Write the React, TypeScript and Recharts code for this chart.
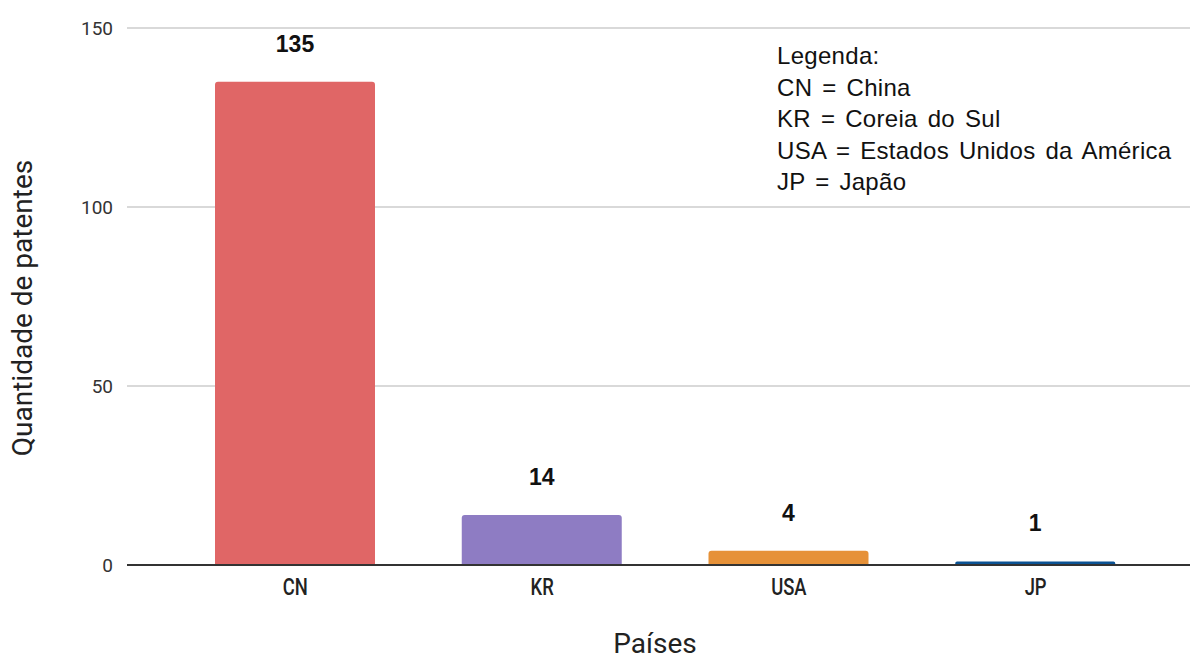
import { BarChart, Bar, XAxis, YAxis, CartesianGrid, Cell, LabelList } from "recharts";

const countries = ["CN", "KR", "USA", "JP"];
const patents = [135, 14, 4, 1];
const barColors = ["#e06666", "#8e7cc3", "#e69138", "#0b5394"];
const yTicks = [0, 50, 100, 150];
const legendLines = [
  "Legenda:",
  "CN = China",
  "KR = Coreia do Sul",
  "USA = Estados Unidos da América",
  "JP = Japão",
];

const data = countries.map((c, i) => ({ country: c, value: patents[i] }));

// narrow, tall category labels like the original
function CountryTick(props: any) {
  const { x, y, payload } = props;
  return (
    <g transform={`translate(${x},${y})`}>
      <text
        transform="scale(0.8,1)"
        textAnchor="middle"
        y={24}
        fill="#222222"
        fontSize={23}
        fontFamily="Roboto"
        fontWeight={500}
      >
        {payload.value}
      </text>
    </g>
  );
}

export default function App() {
  return (
    <div style={{ position: "absolute", left: 0, top: 0, width: 1190, height: 658, background: "#fff" }}>
      <BarChart
        width={1190}
        height={658}
        data={data}
        margin={{ top: 28, right: 0, left: 0, bottom: 0 }}
      >
        <CartesianGrid vertical={false} stroke="#cccccc" strokeWidth={1.5} />
        <XAxis
          dataKey="country"
          height={93}
          padding={{ left: 45, right: 31 }}
          tickLine={false}
          axisLine={{ stroke: "#333333", strokeWidth: 2 }}
          tickMargin={0}
          tick={<CountryTick />}
        />
        <YAxis
          width={127}
          domain={[0, 150]}
          ticks={yTicks}
          axisLine={false}
          tickLine={false}
          tickMargin={8}
          tick={{ fill: "#333333", fontSize: 19, fontFamily: "Roboto" }}
        />
        <Bar dataKey="value" barSize={160} radius={[3, 3, 0, 0]} isAnimationActive={false}>
          {data.map((d, i) => (
            <Cell key={d.country} fill={barColors[i]} />
          ))}
          <LabelList
            dataKey="value"
            position="top"
            offset={30}
            style={{ fill: "#111111", fontSize: 23, fontWeight: 700, fontFamily: "Liberation Sans" }}
          />
        </Bar>
      </BarChart>

      <div
        style={{
          position: "absolute",
          left: 23,
          top: 308,
          lineHeight: "28px",
          transform: "translate(-50%, -50%) rotate(-90deg)",
          whiteSpace: "nowrap",
          fontFamily: "Roboto",
          fontSize: 28,
          color: "#222222",
        }}
      >
        Quantidade de patentes
      </div>
      <div
        style={{
          position: "absolute",
          left: 655,
          top: 632,
          lineHeight: "24px",
          transform: "translateX(-50%)",
          whiteSpace: "nowrap",
          fontFamily: "Roboto",
          fontSize: 28,
          color: "#222222",
        }}
      >
        Países
      </div>
      <div
        style={{
          position: "absolute",
          left: 777,
          top: 40,
          fontFamily: "Liberation Sans",
          fontSize: 24,
          lineHeight: "31.6px",
          letterSpacing: 0.3,
          wordSpacing: 3,
          color: "#111111",
          whiteSpace: "nowrap",
        }}
      >
        {legendLines.map((l) => (
          <div key={l}>{l}</div>
        ))}
      </div>
    </div>
  );
}
